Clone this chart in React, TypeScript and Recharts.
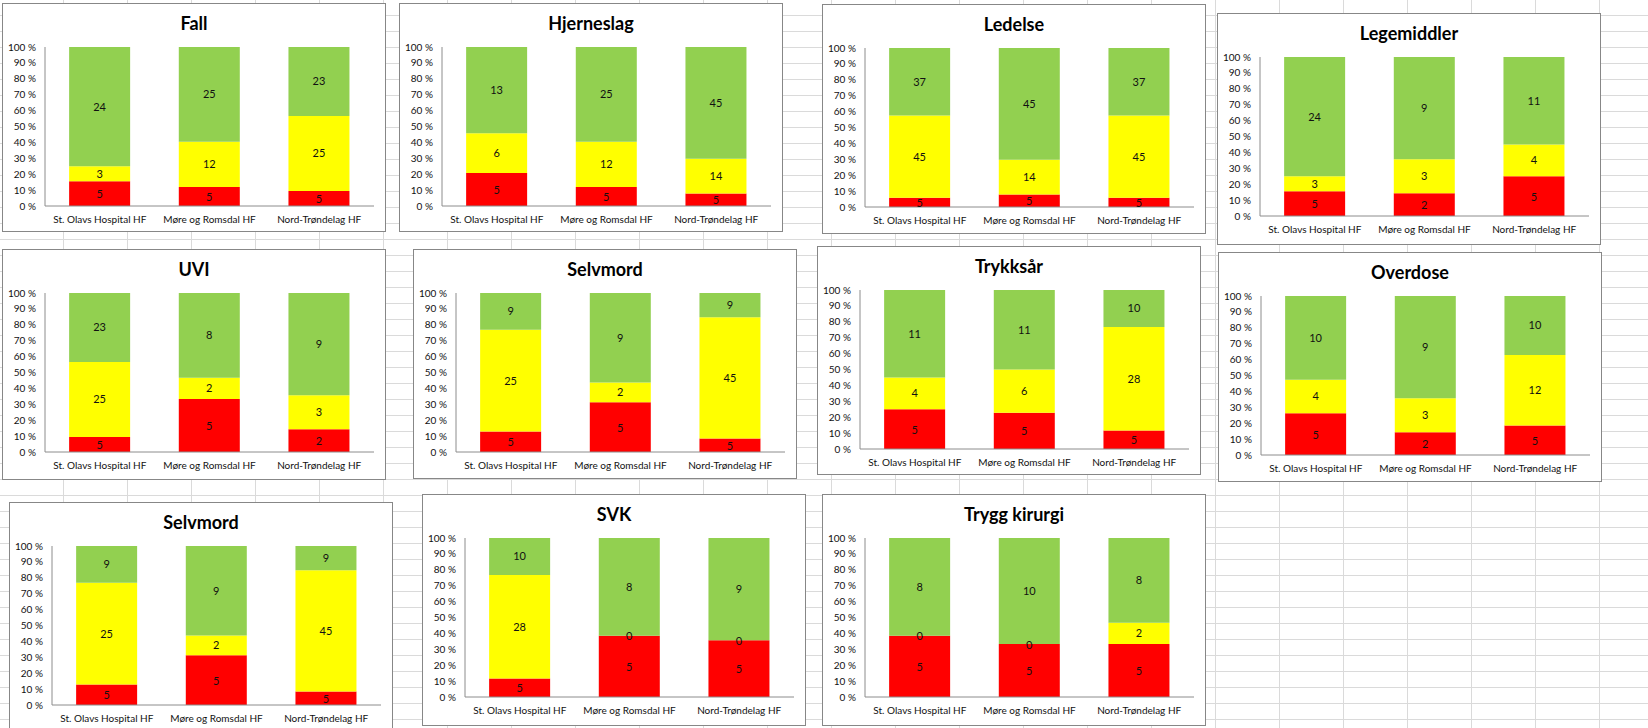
import React from 'react'
import { BarChart, Bar, XAxis, YAxis, LabelList } from 'recharts'

const HOSPITALS = ['St. Olavs Hospital HF', 'Møre og Romsdal HF', 'Nord-Trøndelag HF']

const TITLES = [
  'Fall',
  'Hjerneslag',
  'Ledelse',
  'Legemiddler',
  'UVI',
  'Selvmord',
  'Trykksår',
  'Overdose',
  'Selvmord',
  'SVK',
  'Trygg kirurgi',
]

// counts per hospital, one row per chart
const RED_COUNTS = [
  [5, 5, 5],
  [5, 5, 5],
  [5, 5, 5],
  [5, 2, 5],
  [5, 5, 2],
  [5, 5, 5],
  [5, 5, 5],
  [5, 2, 5],
  [5, 5, 5],
  [5, 5, 5],
  [5, 5, 5],
]

const YELLOW_COUNTS = [
  [3, 12, 25],
  [6, 12, 14],
  [45, 14, 45],
  [3, 3, 4],
  [25, 2, 3],
  [25, 2, 45],
  [4, 6, 28],
  [4, 3, 12],
  [25, 2, 45],
  [28, 0, 0],
  [0, 0, 2],
]

const GREEN_COUNTS = [
  [24, 25, 23],
  [13, 25, 45],
  [37, 45, 37],
  [24, 9, 11],
  [23, 8, 9],
  [9, 9, 9],
  [11, 11, 10],
  [10, 9, 10],
  [9, 9, 9],
  [10, 8, 9],
  [8, 10, 8],
]

const Y_TICKS = [0, 0.1, 0.2, 0.3, 0.4, 0.5, 0.6, 0.7, 0.8, 0.9, 1]

// where each chart object sits on the sheet
const BOXES = [
  { left: 2, top: 3, height: 229 },
  { left: 399, top: 3, height: 229 },
  { left: 822, top: 4, height: 230 },
  { left: 1217, top: 13, height: 232 },
  { left: 2, top: 249, height: 231 },
  { left: 413, top: 249, height: 230 },
  { left: 817, top: 246, height: 229 },
  { left: 1218, top: 252, height: 230 },
  { left: 9, top: 502, height: 230 },
  { left: 422, top: 494, height: 232 },
  { left: 822, top: 494, height: 232 },
]

const BOX_W = 384
const PLOT_TOP = 43
const PLOT_H = 159
const X_AXIS_H = 20
const AXIS_COLOR = '#8c8c8c'
const TEXT_COLOR = '#111'
const LABEL_SIZE = 11

function StackedChart({ index }: { index: number }) {
  const box = BOXES[index]
  const innerH = box.height - 2
  const data = HOSPITALS.map((name, i) => ({
    name,
    red: RED_COUNTS[index][i],
    yellow: YELLOW_COUNTS[index][i],
    green: GREEN_COUNTS[index][i],
  }))
  const labelStyle = { fontSize: LABEL_SIZE, fill: TEXT_COLOR }

  // red label, plus the "0" of an empty yellow segment sitting on the red top
  const redLabel = (props: any) => {
    const { x, y, width, height, value, index: i } = props
    const cx = Number(x) + Number(width) / 2
    return (
      <g>
        <text x={cx} y={Number(y) + Number(height) / 2} textAnchor="middle" dominantBaseline="central" fontSize={LABEL_SIZE} fill={TEXT_COLOR}>
          {value}
        </text>
        {YELLOW_COUNTS[index][i] === 0 && (
          <text x={cx} y={Number(y)} textAnchor="middle" dominantBaseline="central" fontSize={LABEL_SIZE} fill={TEXT_COLOR}>
            0
          </text>
        )}
      </g>
    )
  }

  return (
    <div
      style={{
        position: 'absolute',
        left: box.left,
        top: box.top,
        width: BOX_W,
        height: box.height,
        boxSizing: 'border-box',
        border: '1px solid #878787',
        background: '#fff',
      }}
    >
      <div
        style={{
          position: 'absolute',
          left: 0,
          right: 0,
          top: 7,
          textAlign: 'center',
          fontWeight: 700,
          fontSize: 18,
          lineHeight: '24px',
          color: '#000',
        }}
      >
        {TITLES[index]}
      </div>
      <BarChart
        width={BOX_W - 2}
        height={innerH}
        data={data}
        stackOffset="expand"
        barCategoryGap="22%"
        margin={{ top: PLOT_TOP, right: 11, left: 0, bottom: innerH - PLOT_TOP - PLOT_H - X_AXIS_H }}
      >
        <XAxis
          dataKey="name"
          interval={0}
          height={X_AXIS_H}
          tickLine={false}
          tickMargin={4}
          axisLine={{ stroke: AXIS_COLOR }}
          tick={{ fontSize: 10, fill: TEXT_COLOR }}
        />
        <YAxis
          type="number"
          domain={[0, 1]}
          ticks={Y_TICKS}
          interval={0}
          width={42}
          tickLine={false}
          tickMargin={3}
          axisLine={{ stroke: AXIS_COLOR }}
          tick={{ fontSize: 10, fill: TEXT_COLOR }}
          tickFormatter={(v: number) => `${Math.round(v * 100)} %`}
        />
        <Bar dataKey="red" stackId="s" fill="#ff0000" isAnimationActive={false}>
          <LabelList dataKey="red" content={redLabel} />
        </Bar>
        <Bar dataKey="yellow" stackId="s" fill="#ffff00" isAnimationActive={false}>
          <LabelList dataKey="yellow" position="center" style={labelStyle} />
        </Bar>
        <Bar dataKey="green" stackId="s" fill="#92d050" isAnimationActive={false}>
          <LabelList dataKey="green" position="center" style={labelStyle} />
        </Bar>
      </BarChart>
    </div>
  )
}

export default function App() {
  return (
    <div
      style={{
        position: 'absolute',
        left: 0,
        top: 0,
        width: 1648,
        height: 728,
        overflow: 'hidden',
        fontFamily: 'Lato, "Noto Sans", sans-serif',
        backgroundColor: '#fff',
        backgroundImage:
          'linear-gradient(to right, transparent 63px, #dadada 63px), linear-gradient(to bottom, transparent 15px, #dadada 15px)',
        backgroundSize: '64px 16px, 64px 16px',
      }}
    >
      {TITLES.map((_, i) => (
        <StackedChart key={i} index={i} />
      ))}
    </div>
  )
}
